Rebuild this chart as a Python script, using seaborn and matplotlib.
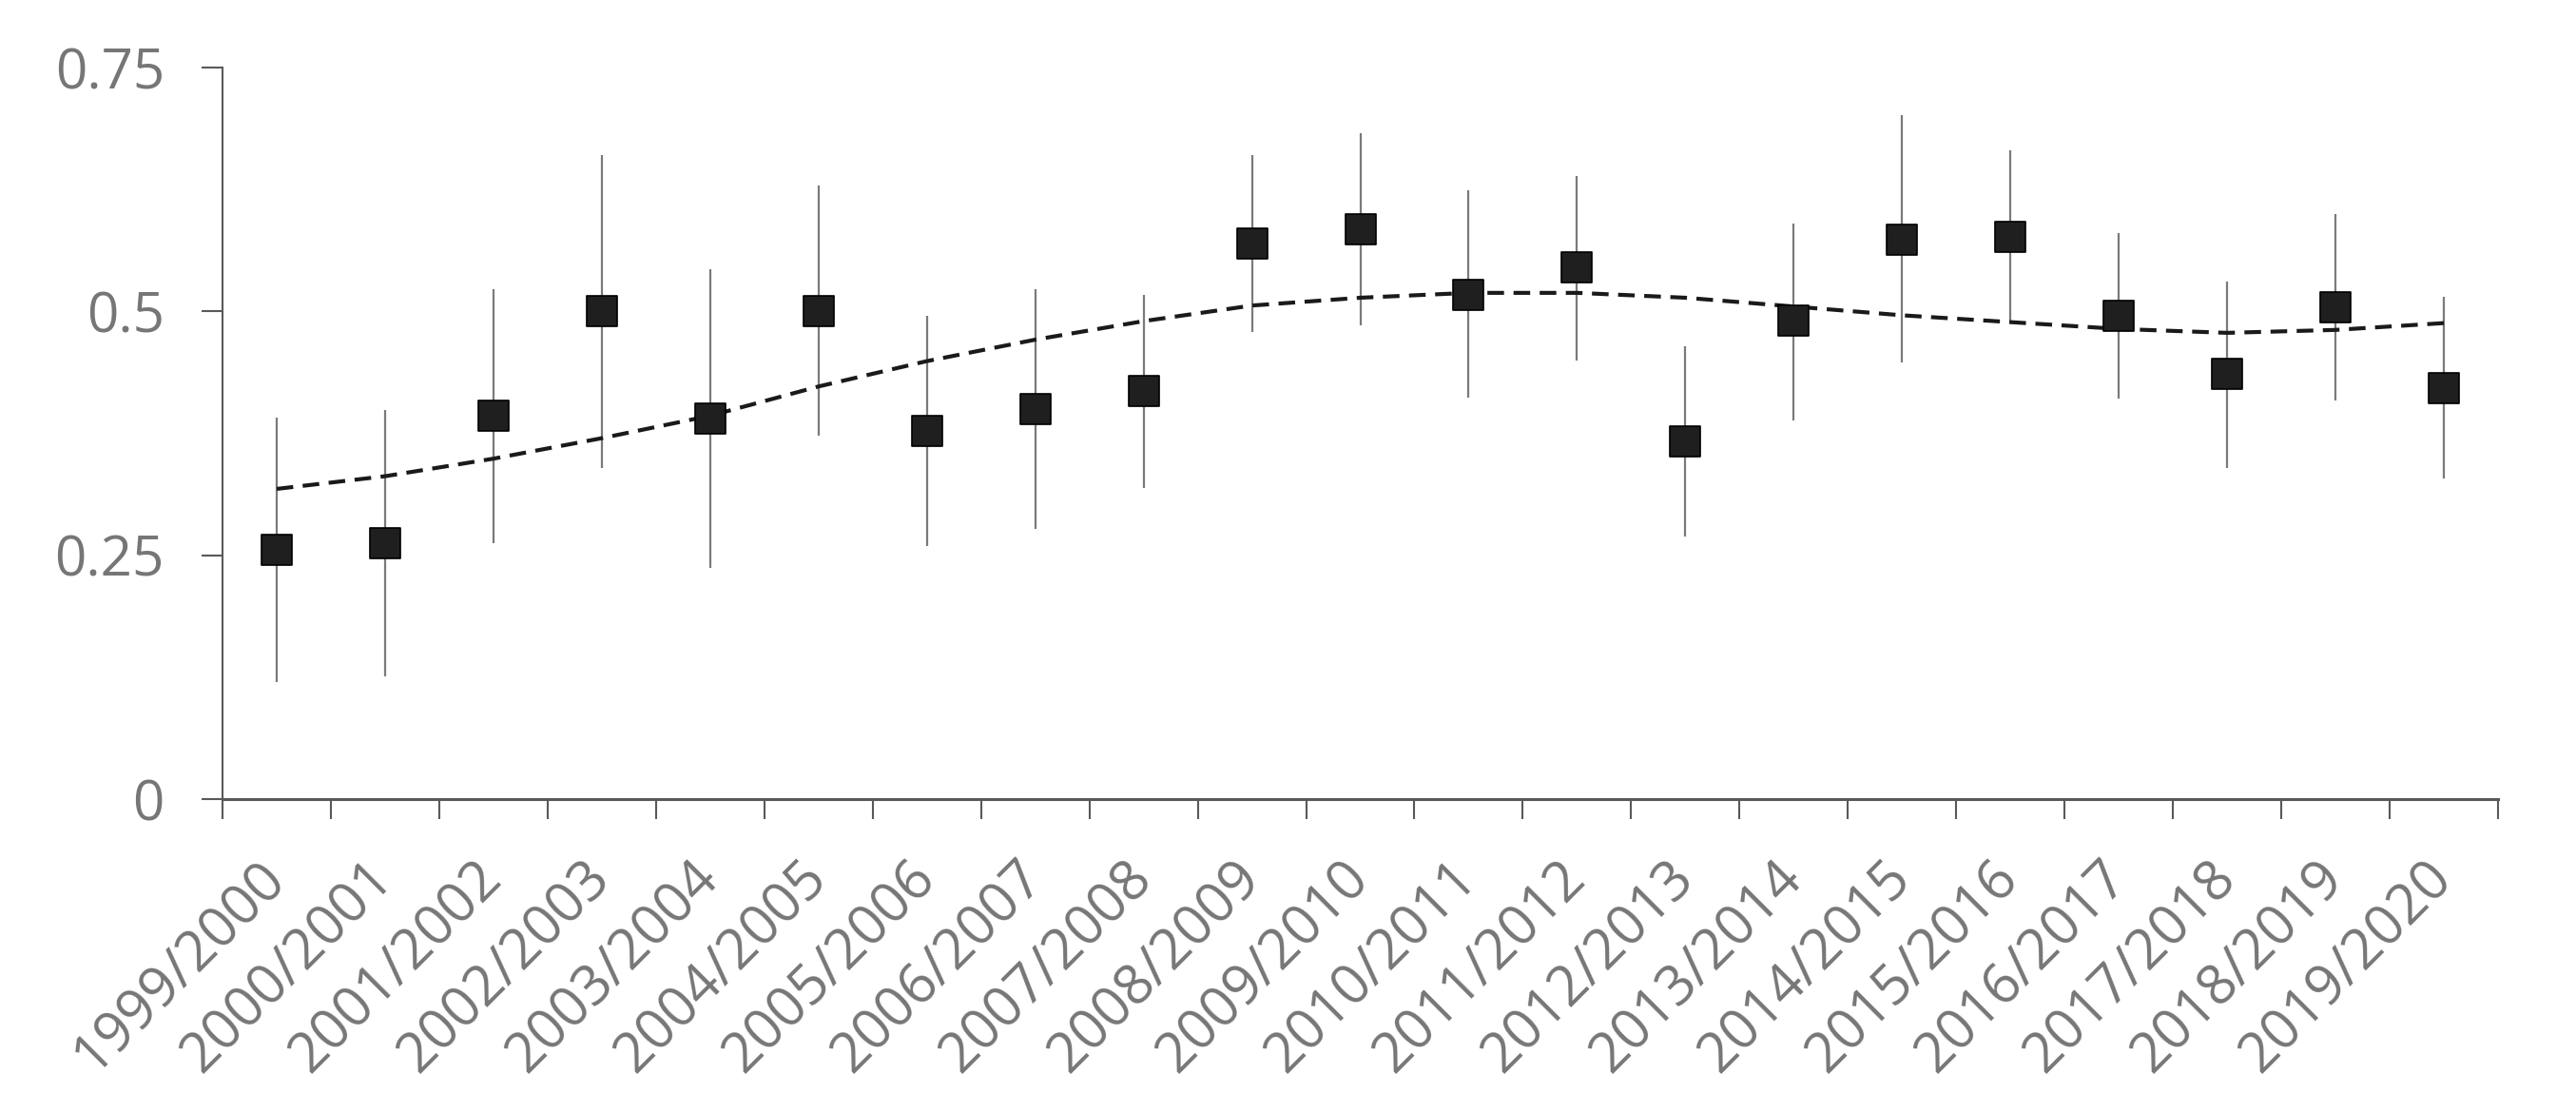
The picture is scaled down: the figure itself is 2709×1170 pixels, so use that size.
import numpy as np
import pandas as pd
import matplotlib
matplotlib.use("Agg")
import matplotlib.pyplot as plt
import seaborn as sns

seasons = ["1999/2000", "2000/2001", "2001/2002", "2002/2003", "2003/2004",
           "2004/2005", "2005/2006", "2006/2007", "2007/2008", "2008/2009",
           "2009/2010", "2010/2011", "2011/2012", "2012/2013", "2013/2014",
           "2014/2015", "2015/2016", "2016/2017", "2017/2018", "2018/2019",
           "2019/2020"]
values = [0.256, 0.262, 0.393, 0.500, 0.390, 0.500, 0.377, 0.400, 0.418, 0.570,
          0.584, 0.517, 0.545, 0.367, 0.491, 0.573, 0.576, 0.495, 0.436, 0.504,
          0.421]
err_low = [0.120, 0.126, 0.262, 0.339, 0.237, 0.373, 0.259, 0.277, 0.319, 0.479,
           0.486, 0.412, 0.450, 0.269, 0.388, 0.448, 0.488, 0.411, 0.339, 0.409,
           0.329]
err_high = [0.391, 0.399, 0.523, 0.660, 0.543, 0.629, 0.495, 0.523, 0.517, 0.660,
            0.683, 0.624, 0.639, 0.464, 0.590, 0.701, 0.665, 0.580, 0.531, 0.600,
            0.515]
trend = [0.318, 0.331, 0.349, 0.370, 0.393, 0.423, 0.449, 0.471, 0.490, 0.506,
         0.514, 0.519, 0.519, 0.514, 0.505, 0.496, 0.489, 0.482, 0.478, 0.481,
         0.488]
y_ticks = [0, 0.25, 0.5, 0.75]
y_tick_labels = ["0", "0.25", "0.5", "0.75"]

sns.set_theme(style="white")
plt.rcParams["font.family"] = ["Open Sans", "DejaVu Sans"]

W, H = 2709, 1170
fig = plt.figure(figsize=(W / 100, H / 100), dpi=100)
ax = fig.add_axes([234 / W, 1 - 840 / H, (2627 - 234) / W, (840 - 71) / H])

df = pd.DataFrame({"season": seasons, "value": values, "low": err_low,
                   "high": err_high, "trend": trend})
df["pos"] = np.arange(len(df))

ax.vlines(df["pos"], df["low"], df["high"], color="#7a7a7a", lw=1.6, zorder=2)
sns.lineplot(data=df, x="pos", y="trend", ax=ax, color="#1a1a1a", lw=3.0,
             zorder=3)
ax.lines[-1].set_dashes((4.2, 2.4))
sns.scatterplot(data=df, x="pos", y="value", ax=ax, marker="s", s=530,
                color="#1f1f1f", edgecolor="#000000", linewidth=1.2, zorder=4)

ax.set_xlim(-0.5, len(seasons) - 0.5)
ax.set_ylim(0, 0.75)
ax.set_xlabel("")
ax.set_ylabel("")

ax.set_xticks(np.arange(-0.5, len(seasons), 1.0))
ax.set_xticklabels([])
ax.set_xticks(df["pos"], minor=True)
ax.set_xticklabels(seasons, minor=True, rotation=45, ha="right", va="center",
                   rotation_mode="anchor", fontsize=42, color="#767676")
ax.tick_params(axis="x", which="major", direction="out", length=15, width=1.5,
               color="#595959", bottom=True)
ax.tick_params(axis="x", which="minor", length=0, pad=54, bottom=True)

ax.set_yticks(y_ticks)
ax.set_yticklabels(y_tick_labels, fontsize=42, color="#767676")
ax.tick_params(axis="y", direction="out", length=16, width=1.5,
               color="#595959", pad=28, left=True)

for side in ["top", "right"]:
    ax.spines[side].set_visible(False)
ax.spines["left"].set_color("#595959")
ax.spines["left"].set_linewidth(1.5)
ax.spines["bottom"].set_color("#595959")
ax.spines["bottom"].set_linewidth(2.2)
ax.grid(False)

fig.savefig("out.png", dpi=100, facecolor="white")
